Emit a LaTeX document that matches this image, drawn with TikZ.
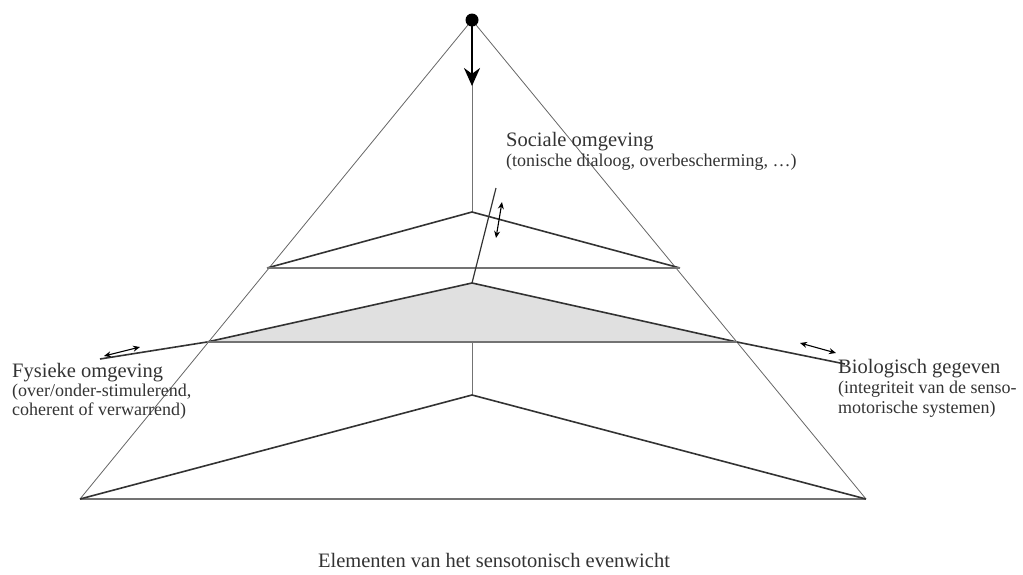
\documentclass[tikz,border=0pt]{standalone}
\usepackage{fontspec}
\setmainfont{Liberation Serif}
\usetikzlibrary{arrows.meta}
\begin{document}
\begin{tikzpicture}[x=1pt,y=-1pt,
  outer/.style={draw=black!60,line width=0.8pt},
  hline/.style={draw=black!55,line width=2pt},
  slope/.style={draw=black!80,line width=1.6pt},
  dbl/.style={{Stealth[length=7pt,width=6pt]}-{Stealth[length=7pt,width=6pt]},line width=1.1pt},
  lbl/.style={anchor=base west,inner sep=0pt,text=black!80},
  title/.style={lbl,font=\fontsize{20.5}{22}\selectfont},
  sub/.style={lbl,font=\fontsize{18}{20}\selectfont}]
\useasboundingbox (0,0) rectangle (1023,574);
% vertices
\coordinate (apex) at (472,20);
\coordinate (bl) at (80,499);
\coordinate (br) at (866,499);
\coordinate (uA) at (472,212);
\coordinate (uL) at (267,268);
\coordinate (uR) at (680,268);
\coordinate (sA) at (472,283);
\coordinate (sL) at (207,342);
\coordinate (sR) at (737,342);
\coordinate (bA) at (472,395);
\coordinate (fl) at (100,359);
\coordinate (fr) at (845,364);
\coordinate (dTop) at (496,188);
\coordinate (sArrow) at (472,86);
% shaded triangle
\fill[black!12] (sA) -- (sL) -- (sR) -- cycle;
% outer triangle
\draw[outer] (bl) -- (apex) -- (br);
\draw[hline] (bl) -- (br);
% vertical axis
\draw[draw=black!55,line width=0.7pt] (apex) -- (uA);
\draw[draw=black!55,line width=0.7pt] (sL -| sA) -- (bA);
% upper triangle
\draw[slope] (uL) -- (uA) -- (uR);
\draw[hline] (uL) -- (uR);
% shaded triangle edges
\draw[slope] (fl) -- (sL) -- (sA) -- (sR) -- (fr);
\draw[hline] (sL) -- (sR);
% bottom triangle
\draw[slope] (bl) -- (bA) -- (br);
% slanted line
\draw[draw=black!80,line width=1.2pt] (sA) -- (dTop);
% arrows
\fill (apex) circle (6.5);
\draw[line width=2.6pt,-{Stealth[length=18pt,width=16pt]}] (apex) -- (sArrow);
\coordinate (d1) at (502,202);
\coordinate (d2) at (496,238);
\draw[dbl] (d2) -- (d1);
\coordinate (l1) at (104,356);
\coordinate (l2) at (140,347);
\draw[dbl] (l1) -- (l2);
\coordinate (r1) at (800,343);
\coordinate (r2) at (836,353);
\draw[dbl] (r1) -- (r2);
% labels
\node[title] (soc) at (506,146) {Sociale omgeving};
\node[sub] (soc2) at (506,166) {(tonische dialoog, overbescherming, \dots)};
\node[title] (fys) at (12,377) {Fysieke omgeving};
\node[sub] (fys2) at (12,396) {(over/onder-stimulerend,};
\node[sub] (fys3) at (12,415) {coherent of verwarrend)};
\node[title] (bio) at (838,373) {Biologisch gegeven};
\node[sub] (bio2) at (838,393) {(integriteit van de senso-};
\node[sub] (bio3) at (838,413) {motorische systemen)};
\node[lbl,font=\fontsize{20.5}{22}\selectfont,anchor=base] (cap) at (494,567) {Elementen van het sensotonisch evenwicht};
\end{tikzpicture}
\end{document}
